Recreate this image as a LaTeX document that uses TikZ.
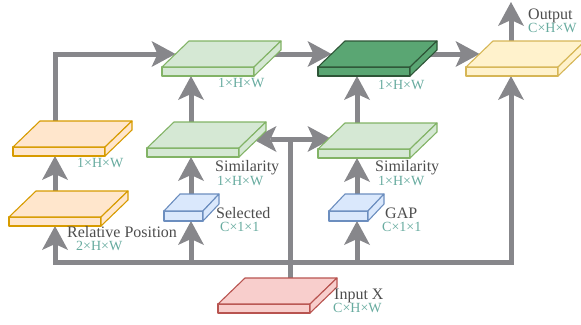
\documentclass[tikz,border=0pt]{standalone}
\usepackage{fontspec}
\setmainfont{Liberation Serif}
\usepackage{tikz}
\usetikzlibrary{arrows.meta}

\definecolor{arrowgray}{HTML}{87878B}
\definecolor{textgray}{HTML}{4D4D4D}
\definecolor{dimteal}{HTML}{67AB9F}
\definecolor{orangefill}{HTML}{FFE6CC}
\definecolor{orangeline}{HTML}{D79B00}
\definecolor{greenfill}{HTML}{D5E8D4}
\definecolor{greenline}{HTML}{82B366}
\definecolor{darkfill}{HTML}{5AA673}
\definecolor{darkline}{HTML}{2E5537}
\definecolor{yellowfill}{HTML}{FFF2CC}
\definecolor{yellowline}{HTML}{D6B656}
\definecolor{bluefill}{HTML}{DAE8FC}
\definecolor{blueline}{HTML}{6C8EBF}
\definecolor{redfill}{HTML}{F8CECC}
\definecolor{redline}{HTML}{B85450}

\begin{document}
\begin{tikzpicture}[x=1pt, y=-1pt, font=\fontsize{16}{18}\selectfont,
	fat/.tip={Stealth[length=24pt,width=26pt,inset=6pt,line width=0pt]},
	flow/.style={draw=arrowgray, line width=5pt, line join=miter, -fat},
	flowtwo/.style={flow, fat-fat},
	slab/.style={line width=1.1pt, line join=round},
	orangeslab/.style={slab, fill=orangefill, draw=orangeline},
	greenslab/.style={slab, fill=greenfill, draw=greenline},
	darkslab/.style={slab, fill=darkfill, draw=darkline},
	yellowslab/.style={slab, fill=yellowfill, draw=yellowline},
	blueslab/.style={slab, fill=bluefill, draw=blueline},
	redslab/.style={slab, fill=redfill, draw=redline},
	lbl/.style={text=textgray, anchor=base west, inner sep=0pt},
	dim/.style={text=dimteal, anchor=base west, inner sep=0pt, font=\fontsize{14}{15}\selectfont}]
	\def\SW{92}
	\def\ST{9}
	\def\SDX{27}
	\def\SDY{26}
	\def\slab#1#2#3#4{%
		\filldraw[#2]	(#3,#4) -- ++(\SW,0) -- ++(0,-\ST) -- ++(-\SW,0) -- cycle;
		\filldraw[#2]	(#3,#4-\ST) -- ++(\SDX,-\SDY) -- ++(\SW,0) -- ++(-\SDX,\SDY) -- cycle;
		\filldraw[#2]	(#3+\SW,#4) -- ++(\SDX,-\SDY) -- ++(0,-\ST) -- ++(-\SDX,\SDY) -- cycle;
		\coordinate (#1-b) at (#3+\SW/2,#4);
		\coordinate (#1-t) at (#3+\SW/2+\SDX/2,#4-\ST-\SDY/2);
		\coordinate (#1-l) at (#3+\SDX/2,#4-\ST-\SDY/2);
		\coordinate (#1-r) at (#3+\SW+\SDX/2,#4-\ST/2-\SDY/2);
	}

	\useasboundingbox (0,0) rectangle (581,324);

	% slab positions first, drawn later over the arrows
	\begin{scope}[opacity=0]
		\slab{pos}{}{9}{226}
		\slab{mask}{}{13}{156}
		\slab{simL}{}{147}{157}
		\slab{agg}{}{162}{76}
		\slab{simR}{}{318}{158}
		\slab{fuse}{}{318}{76}
		\slab{out}{}{466}{76}
		\slab{in}{}{218}{313}
		\def\SW{39}\def\ST{10}\def\SDX{16}\def\SDY{17}
		\slab{sel}{}{164}{221}
		\slab{gap}{}{329}{221}
	\end{scope}

	\coordinate (busA) at (55,262);
	\coordinate (busB) at (191,262);
	\coordinate (busD) at (357,262);
	\coordinate (busE) at (511,262);
	\coordinate (join) at (290,139);
	\coordinate (outtip) at (511,2);

	\draw[flowtwo]	(busA |- pos-b) -- (busA) -- (busE) -- (busE |- out-b);
	\draw[flow]	(busB) -- (busB |- sel-b);
	\draw[flow]	(busD) -- (busD |- gap-b);
	\draw[flow]	(busA |- pos-t) -- (busA |- mask-b);
	\draw[flow]	(busA |- mask-t) |- (agg-l);
	\draw[flow]	(busB |- sel-t) -- (busB |- simL-b);
	\draw[flow]	(busB |- simL-t) -- (busB |- agg-b);
	\draw[flow, -]	(join |- in-t) -- (join);
	\draw[flowtwo]	(simL-r |- join) -- (simR-l |- join);
	\draw[flow]	(busD |- gap-t) -- (busD |- simR-b);
	\draw[flow]	(busD |- simR-t) -- (busD |- fuse-b);
	\draw[flow]	(agg-t) -- (fuse-l);
	\draw[flow]	(fuse-t) -- (out-l);
	\draw[flow]	(busE |- out-t) -- (outtip);

	\slab{pos}{orangeslab}{9}{226}
	\slab{mask}{orangeslab}{13}{156}
	\slab{simL}{greenslab}{147}{157}
	\slab{agg}{greenslab}{162}{76}
	\slab{simR}{greenslab}{318}{158}
	\slab{fuse}{darkslab}{318}{76}
	\slab{out}{yellowslab}{466}{76}
	\slab{in}{redslab}{218}{313}
	\begin{scope}
		\def\SW{39}\def\ST{10}\def\SDX{16}\def\SDY{17}
		\slab{sel}{blueslab}{164}{221}
		\slab{gap}{blueslab}{329}{221}
	\end{scope}

	\node[dim]	(maskdim)	at (77,167.5)	{1×H×W};
	\node[lbl]	(posname)	at (67,237.5)	{Relative Position};
	\node[dim]	(posdim)	at (76,250.5)	{2×H×W};
	\node[dim]	(aggdim)	at (218,87.5)	{1×H×W};
	\node[lbl]	(simLname)	at (215,171.5)	{Similarity};
	\node[dim]	(simLdim)	at (217,185.5)	{1×H×W};
	\node[lbl]	(selname)	at (216,218)	{Selected};
	\node[dim]	(seldim)	at (220,231.5)	{C×1×1};
	\node[lbl]	(simRname)	at (375,171.5)	{Similarity};
	\node[dim]	(simRdim)	at (378,185.5)	{1×H×W};
	\node[lbl]	(gapname)	at (385,218)	{GAP};
	\node[dim]	(gapdim)	at (382,231.5)	{C×1×1};
	\node[lbl]	(inname)	at (334,299)	{Input X};
	\node[dim]	(indim)	at (333,312.5)	{C×H×W};
	\node[dim]	(fusedim)	at (378,89.5)	{1×H×W};
	\node[lbl]	(outname)	at (528,19.5)	{Output};
	\node[dim]	(outdim)	at (528,32.5)	{C×H×W};
\end{tikzpicture}
\end{document}
